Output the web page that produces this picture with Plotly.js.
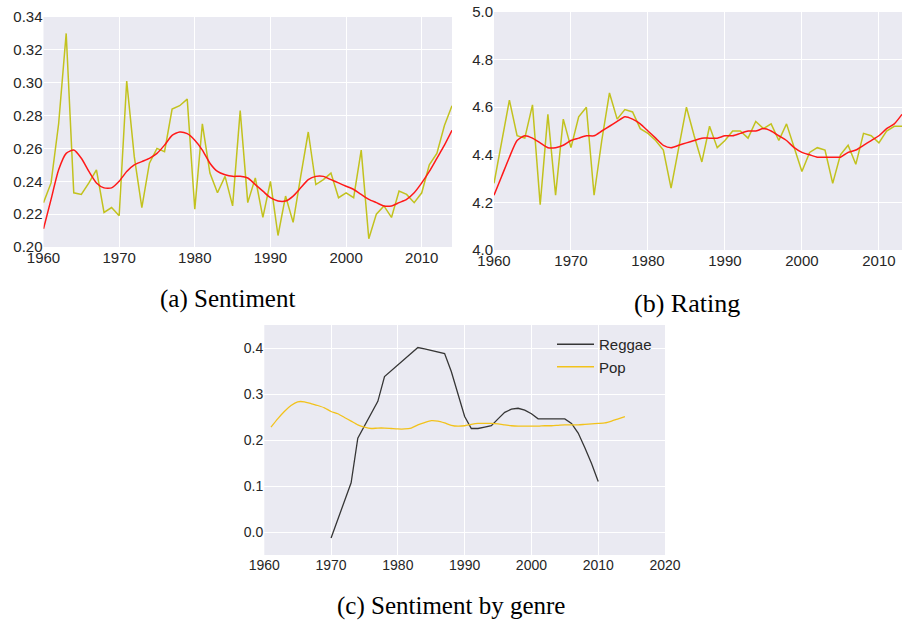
<!DOCTYPE html>
<html>
<head>
<meta charset="utf-8">
<script src="https://cdn.plot.ly/plotly-3.0.1.min.js"></script>
<style>html,body{margin:0;padding:0;background:#fff;}#chart{width:902px;height:623px;}</style>
</head>
<body>
<div id="chart"></div>
<script>
// ---- (a) Sentiment by year ----
const yearsA = [1960,1961,1962,1963,1964,1965,1966,1967,1968,1969,1970,1971,1972,1973,1974,1975,1976,1977,1978,1979,1980,1981,1982,1983,1984,1985,1986,1987,1988,1989,1990,1991,1992,1993,1994,1995,1996,1997,1998,1999,2000,2001,2002,2003,2004,2005,2006,2007,2008,2009,2010,2011,2012,2013,2014];
const sentimentRaw = [0.227,0.239,0.275,0.330,0.233,0.232,0.239,0.247,0.221,0.224,0.219,0.301,0.255,0.224,0.251,0.260,0.258,0.284,0.286,0.290,0.223,0.275,0.245,0.233,0.243,0.225,0.283,0.227,0.242,0.218,0.240,0.207,0.231,0.215,0.243,0.270,0.238,0.241,0.245,0.230,0.233,0.230,0.259,0.205,0.220,0.225,0.218,0.234,0.232,0.227,0.233,0.250,0.257,0.274,0.286];
const sentimentSmooth = [0.211,0.229,0.247,0.257,0.259,0.254,0.246,0.239,0.236,0.236,0.240,0.246,0.250,0.252,0.254,0.257,0.262,0.268,0.270,0.269,0.265,0.259,0.251,0.246,0.244,0.243,0.243,0.242,0.238,0.234,0.230,0.228,0.228,0.231,0.236,0.241,0.243,0.243,0.241,0.239,0.237,0.235,0.232,0.229,0.227,0.225,0.225,0.227,0.229,0.233,0.239,0.246,0.254,0.262,0.271];

// ---- (b) Rating by year ----
const yearsB = [1960,1961,1962,1963,1964,1965,1966,1967,1968,1969,1970,1971,1972,1973,1974,1975,1976,1977,1978,1979,1980,1981,1982,1983,1984,1985,1986,1987,1988,1989,1990,1991,1992,1993,1994,1995,1996,1997,1998,1999,2000,2001,2002,2003,2004,2005,2006,2007,2008,2009,2010,2011,2012,2013];
const ratingRaw = [4.28,4.45,4.63,4.48,4.47,4.61,4.19,4.57,4.23,4.55,4.43,4.56,4.60,4.23,4.46,4.66,4.55,4.59,4.58,4.51,4.49,4.46,4.42,4.26,4.43,4.60,4.48,4.37,4.52,4.43,4.46,4.50,4.50,4.47,4.54,4.51,4.53,4.46,4.53,4.43,4.33,4.41,4.43,4.42,4.28,4.40,4.44,4.36,4.49,4.48,4.45,4.50,4.52,4.52];
const ratingSmooth = [4.23,4.31,4.39,4.46,4.48,4.47,4.45,4.43,4.43,4.44,4.46,4.47,4.48,4.48,4.50,4.52,4.54,4.56,4.55,4.53,4.50,4.47,4.44,4.43,4.44,4.45,4.46,4.47,4.47,4.47,4.48,4.48,4.49,4.50,4.50,4.51,4.50,4.48,4.46,4.43,4.41,4.40,4.39,4.39,4.39,4.39,4.41,4.42,4.44,4.46,4.48,4.51,4.53,4.57];

// ---- (c) Sentiment by genre ----
const yearsReggae = [1970,1971,1972,1973,1974,1975,1976,1977,1978,1979,1980,1981,1982,1983,1984,1985,1986,1987,1988,1989,1990,1991,1992,1993,1994,1995,1996,1997,1998,1999,2000,2001,2002,2003,2004,2005,2006,2007,2008,2009,2010];
const reggae = [-0.013,0.027,0.067,0.107,0.204,0.230,0.257,0.284,0.338,0.351,0.364,0.376,0.389,0.401,0.398,0.395,0.392,0.388,0.349,0.299,0.251,0.225,0.225,0.228,0.231,0.246,0.260,0.267,0.269,0.265,0.257,0.246,0.246,0.246,0.246,0.246,0.236,0.215,0.183,0.149,0.110];
const yearsPop = [1961,1962,1963,1964,1965,1966,1967,1968,1969,1970,1971,1972,1973,1974,1975,1976,1977,1978,1979,1980,1981,1982,1983,1984,1985,1986,1987,1988,1989,1990,1991,1992,1993,1994,1995,1996,1997,1998,1999,2000,2001,2002,2003,2004,2005,2006,2007,2008,2009,2010,2011,2012,2013,2014];
const pop = [0.228,0.246,0.262,0.275,0.283,0.283,0.279,0.275,0.270,0.262,0.257,0.249,0.241,0.233,0.228,0.225,0.226,0.226,0.225,0.224,0.224,0.226,0.233,0.238,0.242,0.241,0.237,0.232,0.230,0.231,0.234,0.236,0.236,0.236,0.235,0.233,0.231,0.230,0.230,0.230,0.230,0.231,0.231,0.232,0.233,0.233,0.233,0.234,0.235,0.236,0.237,0.241,0.246,0.251];

const captions = ['(a) Sentiment', '(b) Rating', '(c) Sentiment by genre'];

const W = 902, H = 623;
const px = v => v / W;
const py = v => 1 - v / H;

const yellow = 'rgb(194,194,30)';
const red = 'rgb(255,25,25)';
const tickFont = {family: 'Liberation Sans, Arial, sans-serif', size: 15, color: '#262626'};
const tickFontC = {family: 'Liberation Sans, Arial, sans-serif', size: 14, color: '#262626'};
const bg = '#EAEAF2';

const traces = [
  {x: yearsA, y: sentimentRaw, xaxis: 'x', yaxis: 'y', mode: 'lines', line: {color: yellow, width: 1.5}, showlegend: false, hoverinfo: 'skip'},
  {x: yearsA, y: sentimentSmooth, xaxis: 'x', yaxis: 'y', mode: 'lines', line: {color: red, width: 1.5, shape: 'spline', smoothing: 0.6}, showlegend: false, hoverinfo: 'skip'},
  {x: yearsB, y: ratingRaw, xaxis: 'x2', yaxis: 'y2', mode: 'lines', line: {color: yellow, width: 1.5}, showlegend: false, hoverinfo: 'skip'},
  {x: yearsB, y: ratingSmooth, xaxis: 'x2', yaxis: 'y2', mode: 'lines', line: {color: red, width: 1.5, shape: 'spline', smoothing: 0.6}, showlegend: false, hoverinfo: 'skip'},
  {x: yearsReggae, y: reggae, xaxis: 'x3', yaxis: 'y3', mode: 'lines', name: 'Reggae', line: {color: '#363636', width: 1.3}},
  {x: yearsPop, y: pop, xaxis: 'x3', yaxis: 'y3', mode: 'lines', name: 'Pop', line: {color: '#F2C21B', width: 1.3, shape: 'spline', smoothing: 0.6}}
];

const axBase = {showgrid: true, gridcolor: '#ffffff', gridwidth: 1, zeroline: false, showline: false, ticks: '', fixedrange: true};

const layout = {
  width: W, height: H,
  margin: {l: 0, r: 0, t: 0, b: 0},
  paper_bgcolor: '#ffffff',
  plot_bgcolor: bg,
  showlegend: true,
  legend: {x: px(552), y: py(328), xanchor: 'left', yanchor: 'top', bgcolor: 'rgba(0,0,0,0)', itemwidth: 37, font: {family: 'Liberation Sans, Arial, sans-serif', size: 15, color: '#262626'}, tracegroupgap: 0},
  xaxis: Object.assign({}, axBase, {domain: [px(43.5), px(452)], range: [1960, 2014], tickvals: [1960,1970,1980,1990,2000,2010], tickfont: tickFont, anchor: 'y'}),
  yaxis: Object.assign({}, axBase, {domain: [py(247), py(17)], range: [0.20, 0.34], tickvals: [0.20,0.22,0.24,0.26,0.28,0.30,0.32,0.34], tickformat: '.2f', tickfont: tickFont, anchor: 'x'}),
  xaxis2: Object.assign({}, axBase, {domain: [px(494), px(902)], range: [1960, 2013], tickvals: [1960,1970,1980,1990,2000,2010], tickfont: tickFont, anchor: 'y2'}),
  yaxis2: Object.assign({}, axBase, {domain: [py(250), py(12)], range: [4.0, 5.0], tickvals: [4.0,4.2,4.4,4.6,4.8,5.0], tickformat: '.1f', tickfont: tickFont, anchor: 'x2'}),
  xaxis3: Object.assign({}, axBase, {domain: [px(264.3), px(665)], range: [1960, 2020], tickvals: [1960,1970,1980,1990,2000,2010,2020], tickfont: tickFontC, anchor: 'y3'}),
  yaxis3: Object.assign({}, axBase, {domain: [py(555), py(325)], range: [-0.05, 0.45], tickvals: [0.0,0.1,0.2,0.3,0.4], tickformat: '.1f', tickfont: tickFontC, anchor: 'x3'}),
  annotations: [
    {text: captions[0], xref: 'paper', yref: 'paper', x: px(227), y: py(299), xanchor: 'center', yanchor: 'middle', showarrow: false, font: {family: 'Liberation Serif, Times New Roman, serif', size: 25, color: '#000'}},
    {text: captions[1], xref: 'paper', yref: 'paper', x: px(687), y: py(304), xanchor: 'center', yanchor: 'middle', showarrow: false, font: {family: 'Liberation Serif, Times New Roman, serif', size: 26, color: '#000'}},
    {text: captions[2], xref: 'paper', yref: 'paper', x: px(451), y: py(606), xanchor: 'center', yanchor: 'middle', showarrow: false, font: {family: 'Liberation Serif, Times New Roman, serif', size: 25, color: '#000'}}
  ]
};

Plotly.newPlot('chart', traces, layout, {displayModeBar: false, staticPlot: true});
</script>
</body>
</html>
